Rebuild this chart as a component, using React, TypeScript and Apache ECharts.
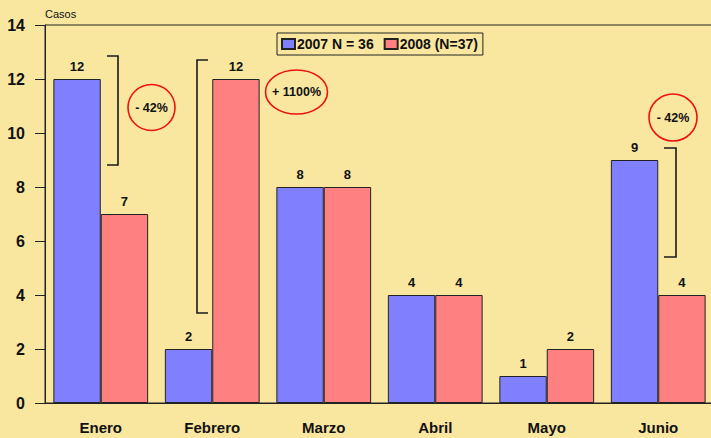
import React, { useEffect, useRef } from "react";
import * as echarts from "echarts";

const categories = ["Enero", "Febrero", "Marzo", "Abril", "Mayo", "Junio"];
const series2007 = [12, 2, 8, 4, 1, 9];
const series2008 = [7, 12, 8, 4, 2, 4];
const seriesNames = ["2007 N = 36", "2008 (N=37)"];
const yTicks = { min: 0, max: 14, interval: 2 };
const annotations = ["- 42%", "+ 1100%", "- 42%"];

const FONT = "'Liberation Sans', Arial, sans-serif";

export default function App() {
  const ref = useRef<HTMLDivElement>(null);
  useEffect(() => {
    document.body.style.margin = "0";
    document.body.style.overflow = "hidden";
    const chart = echarts.init(ref.current!, null, { renderer: "svg" });
    const bracket = (pts: number[][]) => ({
      type: "polyline",
      shape: { points: pts },
      style: { stroke: "#1a1a1a", lineWidth: 1.6, fill: "none" },
      z: 10,
    });
    const ellipse = (cx: number, cy: number, rx: number, ry: number, text: string) => [
      {
        type: "ellipse",
        shape: { cx, cy, rx, ry },
        style: { stroke: "#ee1111", lineWidth: 1.6, fill: "none" },
        z: 10,
      },
      {
        type: "text",
        x: cx,
        y: cy,
        style: {
          text,
          fill: "#111",
          font: `bold 12.5px ${FONT}`,
          textAlign: "center",
          textVerticalAlign: "middle",
        },
        z: 11,
      },
    ];
    chart.setOption({
      animation: false,
      backgroundColor: "#F9E7A0",
      textStyle: { fontFamily: FONT },
      grid: {
        left: 45,
        width: 669,
        top: 25,
        bottom: 35,
        show: true,
        borderColor: "#222",
        borderWidth: 1,
        backgroundColor: "transparent",
      },
      legend: {
        data: seriesNames,
        left: 277,
        top: 33,
        padding: [4, 5, 4, 4],
        itemWidth: 13,
        itemHeight: 10,
        itemGap: 10,
        borderColor: "#222",
        borderWidth: 1,
        backgroundColor: "transparent",
        textStyle: { fontFamily: FONT, fontWeight: "bold", fontSize: 14, color: "#111", padding: [0, 0, 0, -3] },
        icon: "rect",
      },
      xAxis: {
        type: "category",
        data: categories,
        axisLine: { lineStyle: { color: "#222", width: 1 } },
        axisTick: { alignWithLabel: true, length: 9, lineStyle: { color: "#222" } },
        axisLabel: { fontFamily: FONT, fontWeight: "bold", fontSize: 15, color: "#111", margin: 17 },
      },
      yAxis: {
        type: "value",
        min: yTicks.min,
        max: yTicks.max,
        interval: yTicks.interval,
        name: "Casos",
        nameLocation: "end",
        nameGap: 6,
        nameTextStyle: { fontFamily: FONT, fontSize: 11, color: "#111", align: "left" },
        axisLine: { show: true, lineStyle: { color: "#222", width: 1 } },
        axisTick: { show: true, length: 10, lineStyle: { color: "#222" } },
        splitLine: { show: false },
        axisLabel: { fontFamily: FONT, fontWeight: "bold", fontSize: 16, color: "#111", margin: 20 },
      },
      series: [
        {
          name: seriesNames[0],
          type: "bar",
          data: series2007,
          barGap: "0%",
          barCategoryGap: "15%",
          itemStyle: { color: "#8080FF", borderColor: "#222", borderWidth: 1 },
          label: { show: true, position: "top", distance: 6, fontFamily: FONT, fontWeight: "bold", fontSize: 13, color: "#111" },
        },
        {
          name: seriesNames[1],
          type: "bar",
          data: series2008,
          barGap: "0%",
          barCategoryGap: "15%",
          itemStyle: { color: "#FF8080", borderColor: "#222", borderWidth: 1 },
          label: { show: true, position: "top", distance: 6, fontFamily: FONT, fontWeight: "bold", fontSize: 13, color: "#111" },
        },
      ],
      graphic: [
        bracket([[107, 56], [118, 56], [118, 165], [107, 165]]),
        bracket([[208, 60], [197, 60], [197, 313], [208, 313]]),
        bracket([[664, 148], [676, 148], [676, 257], [664, 257]]),
        ...ellipse(151.5, 107.5, 23.5, 23, annotations[0]),
        ...ellipse(296.5, 92, 31, 22, annotations[1]),
        ...ellipse(673, 117.5, 24, 23.5, annotations[2]),
      ],
    });
    return () => chart.dispose();
  }, []);
  return (
    <div style={{ position: "absolute", left: 0, top: 0, width: 711, height: 438, overflow: "hidden" }}>
      <div ref={ref} style={{ width: 730, height: 438 }} />
    </div>
  );
}
